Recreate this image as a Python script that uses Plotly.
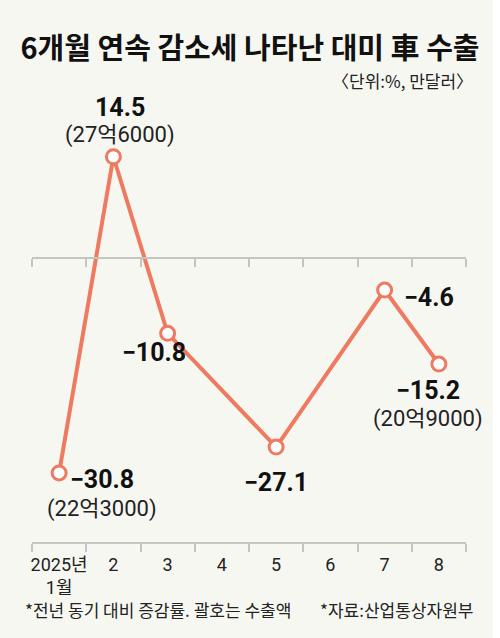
import plotly.graph_objects as graph

# data
months = ["2025년<br>1월", "2", "3", "4", "5", "6", "7", "8"]
change = [-30.8, 14.5, -10.8, None, -27.1, None, -4.6, -15.2]          # 전년 동기 대비 증감률 (%)
change_text = ["−30.8", "14.5", "−10.8", "", "−27.1", "", "−4.6", "−15.2"]
exports = ["(22억3000)", "(27억6000)", "", "", "", "", "", "(20억9000)"]  # 수출액 (만달러)

title = "6개월 연속 감소세 나타난 대미 車 수출"
unit = "〈단위:%, 만달러〉"
note = "*전년 동기 대비 증감률. 괄호는 수출액"
source = "*자료:산업통상자원부"

line_color = "#ee7a60"
axis_color = "#c4c4c0"
bg = "#f7f7f2"
narrow = "Roboto, Noto Sans CJK KR, sans-serif"
hangul = "Noto Sans CJK KR, sans-serif"

y_min, y_max = -40.7, 21.2
zero_pos = (0 - y_min) / (y_max - y_min)      # where the zero line sits in the plot

# label offsets in pixels (value label, amount label)
value_shift = [(43, -7), (7, 49), (-14, -19), None, (0, -35), None, (44, -7), (-11, -26)]
amount_shift = [(43, -36), (7, 22), None, None, None, None, None, (-11, -55)]

fig = graph.Figure()
fig.add_trace(graph.Scatter(x=months, y=change, mode="lines+markers", connectgaps=True,
                            line=dict(color=line_color, width=4),
                            marker=dict(size=14, color="white", line=dict(color=line_color, width=3)),
                            hoverinfo="skip"))
# invisible copy so the zero-line axis gets the same categories
fig.add_trace(graph.Scatter(x=months, y=change, xaxis="x2", mode="markers",
                            marker=dict(opacity=0), hoverinfo="skip"))

annotations = []
for i, (v, t, s) in enumerate(zip(change, change_text, value_shift)):
    if v is None:
        continue
    annotations.append(dict(x=i, y=v, text="<b>" + t + "</b>", showarrow=False, xshift=s[0], yshift=s[1],
                            font=dict(family=narrow, size=25, color="#111")))
for i, (v, t, s) in enumerate(zip(change, exports, amount_shift)):
    if not t:
        continue
    annotations.append(dict(x=i, y=v, text=t, showarrow=False, xshift=s[0], yshift=s[1],
                            font=dict(family=narrow, size=22, color="#222")))

annotations += [
    dict(xref="paper", yref="paper", x=1.0207, y=1.069, text=unit, showarrow=False,
         xanchor="right", yanchor="middle", font=dict(family=hangul, size=17, color="#222")),
    dict(xref="paper", yref="paper", x=-0.0207, y=-0.156, text=note, showarrow=False,
         xanchor="left", yanchor="middle", font=dict(family=hangul, size=17, color="#222")),
    dict(xref="paper", yref="paper", x=1.0207, y=-0.156, text=source, showarrow=False,
         xanchor="right", yanchor="middle", font=dict(family=hangul, size=17, color="#222")),
]

fig.update_layout(
    width=500, height=638,
    margin=dict(l=32, r=34, t=110, b=96),
    paper_bgcolor=bg, plot_bgcolor=bg,
    showlegend=False,
    title=dict(text="<b>" + title + "</b>", x=0.5, xanchor="center", y=1 - 49 / 638, yanchor="middle",
               font=dict(family=hangul, size=29, color="#111")),
    xaxis=dict(type="category", categoryarray=months, range=[-0.5, 7.5], showgrid=False, zeroline=False,
               showline=True, linecolor=axis_color, linewidth=2, ticks="outside", tickson="boundaries",
               ticklen=8, tickwidth=2, tickcolor=axis_color, tickangle=0, automargin=False,
               ticklabelstandoff=5, tickfont=dict(family=narrow, size=18, color="#222")),
    xaxis2=dict(type="category", categoryarray=months, range=[-0.5, 7.5], overlaying="x", anchor="free",
                position=zero_pos, showgrid=False, zeroline=False, showline=True, linecolor=axis_color,
                linewidth=2, ticks="outside", tickson="boundaries", ticklen=8, tickwidth=2,
                tickcolor=axis_color, showticklabels=False, automargin=False),
    yaxis=dict(range=[y_min, y_max], visible=False, showgrid=False, zeroline=False, automargin=False),
    # thin white strip at the right edge, as in the reference image
    shapes=[dict(type="rect", xref="paper", yref="paper", x0=1.062, x1=1.08, y0=-0.3, y1=1.3,
                 fillcolor="white", line=dict(width=0), layer="below")],
    annotations=annotations,
)

# drop the page's default body margin so the figure sits at the window's corner
fig.write_html("out.html", config={"displayModeBar": False},
               post_script="document.body.style.margin = '0';")
